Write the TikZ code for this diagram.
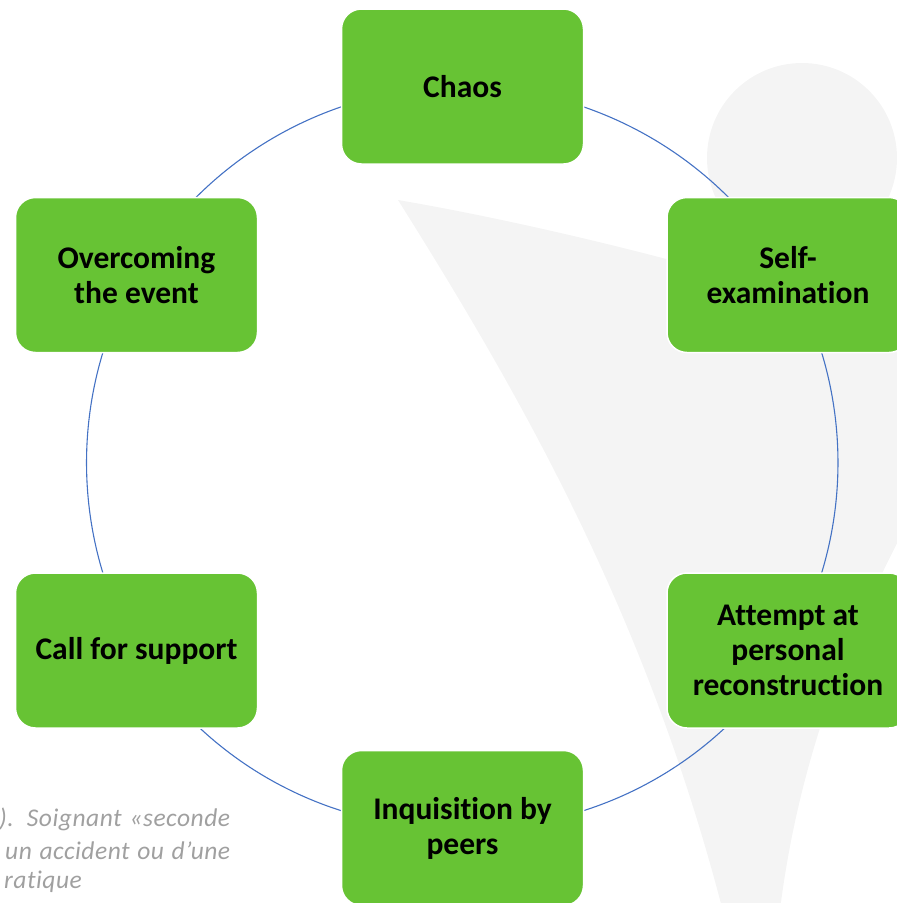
\documentclass[tikz,border=0pt]{standalone}
\usepackage{fontspec}
\setmainfont[Ligatures=NoCommon]{Carlito}
\newfontfamily\notefont[LetterSpace=2,Ligatures=NoCommon]{Carlito}
\usetikzlibrary{backgrounds}
\definecolor{StageGreen}{RGB}{103,195,52}
\definecolor{RingBlue}{RGB}{68,114,196}
\definecolor{ShadeGrey}{RGB}{244,244,244}
\definecolor{NoteGrey}{RGB}{160,160,160}

\begin{document}
\begin{tikzpicture}[x=1pt, y=-1pt,
    stage/.style={rectangle, rounded corners=20pt, draw=white, line width=1.5pt,
      fill=StageGreen, minimum width=242pt, minimum height=155pt, align=center,
      font=\fontsize{31.5}{35}\selectfont\bfseries},
    note/.style={anchor=base west, inner sep=0pt, text=NoteGrey,
      font=\notefont\fontsize{25.5}{33}\selectfont\itshape},
    ring/.style={RingBlue, line width=1.1pt, bend left=30, looseness=0.91}]
  \useasboundingbox (0,0) rectangle (897,903);
  \path node (C) at (462.5, 86.5) [stage] {Chaos}
        node (S) at (  788,  275) [stage] {Self-\\examination}
        node (A) at (  788,650.5) [stage] {Attempt at\\personal\\reconstruction}
        node (I) at (462.5,  828) [stage] {Inquisition by\\peers}
        node (F) at (136.5,650.5) [stage] {Call for support}
        node (O) at (136.5,  275) [stage] {Overcoming\\the event}
        node (n1) at ( -1,826) [note] {\makebox[231pt][s]{). Soignant «seconde}}
        node (n2) at (  5,859) [note] {\makebox[225pt][s]{un accident ou d’une}}
        node (n3) at (  4,888) [note] {ratique};
  \begin{scope}[on background layer]
    % grey figure behind the cycle
    \fill[ShadeGrey] (802,158) circle (95);
    \fill[ShadeGrey] (398,200) .. controls (480,214) and (590,238) .. (700,268)
      -- (905,300) -- (920,500) .. controls (860,610) and (790,760) .. (775,960)
      -- (735,960) .. controls (660,640) and (530,410) .. (398,200) -- cycle;
    \draw[ring] (C.center) to (S.center) (S.center) to (A.center)
                (A.center) to (I.center) (I.center) to (F.center)
                (F.center) to (O.center) (O.center) to (C.center);
  \end{scope}
\end{tikzpicture}
\end{document}
